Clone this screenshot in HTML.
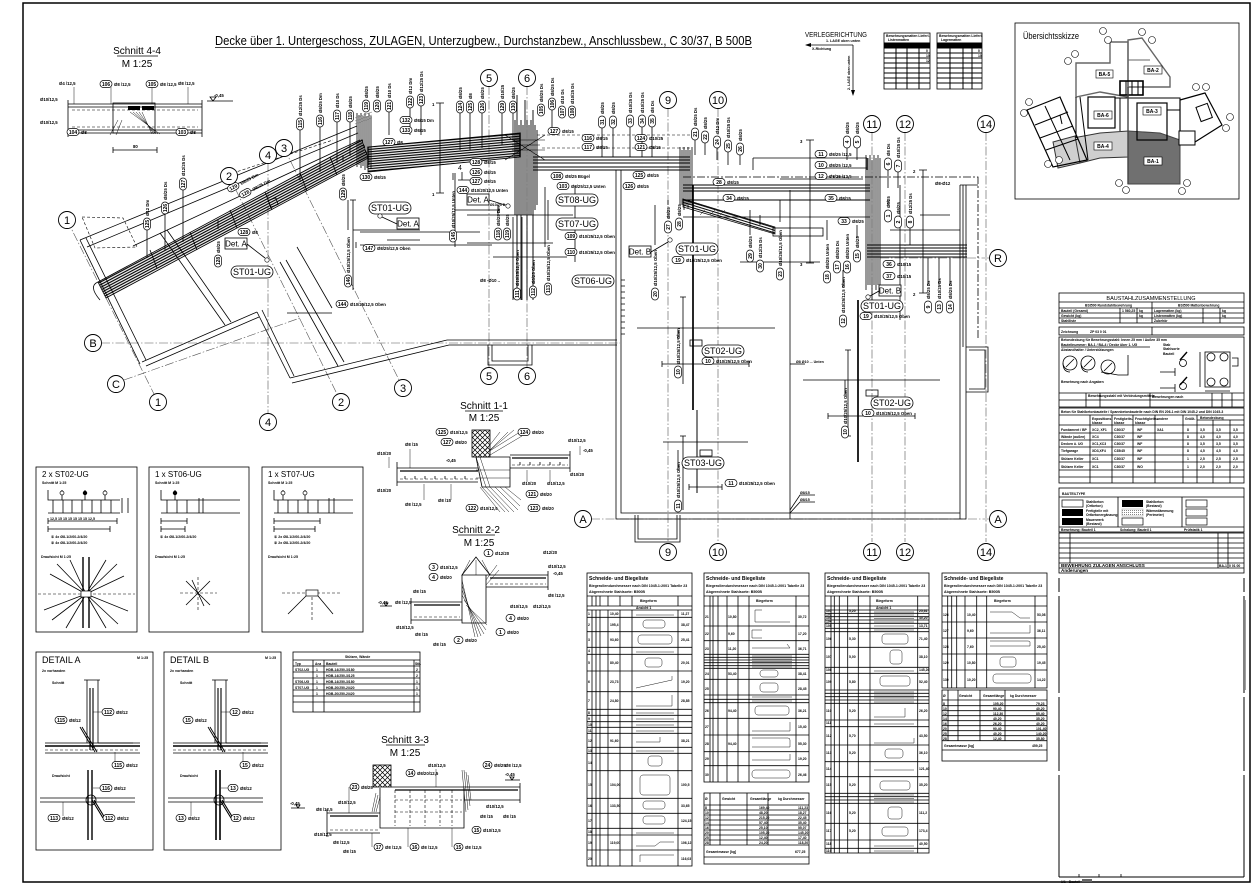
<!DOCTYPE html>
<html><head><meta charset="utf-8"><title>Bewehrungsplan</title>
<style>
html,body{margin:0;padding:0;background:#fff;width:1253px;height:888px;overflow:hidden}
svg{display:block}
text{font-family:"Liberation Sans Narrow","Liberation Sans",sans-serif;fill:#000}
.l{stroke:#000;stroke-width:.8;fill:none}
.t{stroke:#000;stroke-width:1.7;fill:none}
.h{stroke:#000;stroke-width:.45;fill:none}
.g{stroke:#555;stroke-width:.6;fill:none;stroke-dasharray:9 2 1.5 2}
.d{stroke:#000;stroke-width:.6;fill:none;stroke-dasharray:3 2}
.c circle{fill:#fff;stroke:#000;stroke-width:.9}
.c text{font-size:11px;text-anchor:middle}
.b rect{fill:#fff;stroke:#000;stroke-width:.7}
.b .n{font-size:5px;font-weight:bold;text-anchor:middle}
.b .s{font-size:4.3px;font-weight:bold}
.k{font-size:4.3px;font-weight:bold}
.kk{font-size:3.6px;font-weight:bold}
.tg rect{fill:#fff;stroke:#000;stroke-width:.8}
.tg text{font-size:9px;text-anchor:middle}
.sm{font-size:10px;text-anchor:middle}
.tb{font-size:3.4px;font-weight:bold}
</style></head><body>
<svg width="1253" height="888" viewBox="0 0 1253 888" xmlns="http://www.w3.org/2000/svg">
<defs>
<pattern id="hb" width="2.4" height="2.4" patternUnits="userSpaceOnUse" patternTransform="rotate(-28)"><line x1="0" y1="1" x2="2.4" y2="1" stroke="#000" stroke-width="1.2"/></pattern>
<pattern id="hb2" width="2.4" height="2.4" patternUnits="userSpaceOnUse" patternTransform="rotate(-5)"><line x1="0" y1="1" x2="2.4" y2="1" stroke="#000" stroke-width="1.2"/></pattern>
<pattern id="hb3" width="2.4" height="2.4" patternUnits="userSpaceOnUse" patternTransform="rotate(17)"><line x1="0" y1="1" x2="2.4" y2="1" stroke="#000" stroke-width="1"/></pattern>
<pattern id="xh" width="5" height="5" patternUnits="userSpaceOnUse"><path d="M0 0L5 5M5 0L0 5" stroke="#000" stroke-width="0.7"/></pattern>
<pattern id="dots" width="2" height="2" patternUnits="userSpaceOnUse"><rect width="1" height="1" fill="#888"/></pattern>
</defs>
<rect width="1253" height="888" fill="#fff"/>
<!-- frame -->
<rect x="23" y="3" width="1227" height="879" fill="none" stroke="#000" stroke-width="1.5"/>

<!-- title -->
<text x="215" y="45" font-size="12.5" textLength="537" lengthAdjust="spacingAndGlyphs">Decke über 1. Untergeschoss, ZULAGEN, Unterzugbew., Durchstanzbew., Anschlussbew., C 30/37, B 500B</text>
<line x1="215" y1="47.5" x2="752" y2="47.5" class="l"/>

<!-- Verlegerichtung -->
<text x="805" y="37" font-size="7.5" textLength="62" lengthAdjust="spacingAndGlyphs">VERLEGERICHTUNG</text>
<text x="826" y="42" class="kk" font-weight="normal">1. LAGE oben unten</text>
<line x1="806" y1="45" x2="853" y2="45" class="l"/><path d="M805 45l6-2v4z"/>
<text x="812" y="50" class="kk">X-Richtung</text>
<line x1="853" y1="45" x2="853" y2="94" class="l"/><path d="M853 96l-2-6h4z"/>
<text transform="translate(850,90) rotate(-90)" class="kk">2. LAGE oben unten</text>

<!-- small tables top -->
<g>
<rect x="884" y="33" width="46" height="56" class="l"/>
<text x="886" y="37" class="tb">Bewehrungsmatten Lieferl.</text><text x="888" y="41" class="tb">Listenmatten</text>
<path d="M884 43H930M884 48H930M884 53H930M884 58H930M884 63H930M884 68H930M884 73H930M884 78H930M884 83H930M896 43V89M907 43V89M919 43V89" stroke="#000" stroke-width="1" fill="none"/>
<rect x="884" y="43" width="46" height="5" fill="#000"/>
<rect x="937" y="33" width="45" height="56" class="l"/>
<text x="939" y="37" class="tb">Bewehrungsmatten Lieferl.</text><text x="941" y="41" class="tb">Lagermatten</text>
<path d="M937 43H982M937 48H982M937 53H982M937 58H982M937 63H982M937 68H982M937 73H982M937 78H982M937 83H982M950 43V89M963 43V89M972 43V89" stroke="#000" stroke-width="1" fill="none"/>
<rect x="937" y="43" width="45" height="5" fill="#000"/>
<text x="926" y="52" class="tb">0</text><text x="926" y="57" class="tb">10</text><text x="926" y="62" class="tb">12</text><text x="978" y="52" class="tb">0</text><text x="978" y="57" class="tb">10</text>
</g>

<!-- Übersichtsskizze -->
<g>
<rect x="1015" y="23" width="224" height="176" class="l" stroke-width="1"/>
<text x="1023" y="39" font-size="9" textLength="56" lengthAdjust="spacingAndGlyphs">Übersichtsskizze</text>
<polygon points="1128,131 1160,133 1180,140 1180,184 1128,184" fill="#707070" stroke="#444" stroke-width="1"/>
<polygon points="1073,138 1100,133 1128,131 1128,157 1100,158 1080,163" fill="#cfcfcf" stroke="#333" stroke-width="1"/>
<polygon points="1053,142 1075,136 1080,163 1058,168" fill="#cfcfcf" stroke="#333" stroke-width="1"/>
<polygon points="1076,63 1110,63 1110,42 1128,42 1128,97 1100,92 1076,97" fill="none" stroke="#666" stroke-width="1.4"/>
<polygon points="1128,40 1142,38 1170,77 1170,87 1128,87" fill="none" stroke="#666" stroke-width="1.4"/>
<line x1="1128" y1="60" x2="1150" y2="60" stroke="#666" stroke-width="1"/>
<rect x="1120" y="81" width="23" height="14" fill="none" stroke="#000" stroke-width="1.6"/>
<path d="M1126 81V95M1132 81V95M1138 81V95" stroke="#000" stroke-width="1"/>
<rect x="1088" y="97" width="27" height="31" fill="none" stroke="#000" stroke-width="1.2"/>
<rect x="1137" y="103" width="30" height="37" fill="none" stroke="#000" stroke-width="1.2"/>
<path d="M1115 98H1180V140M1120 98V131M1167 110H1180M1080 97L1088 160M1076 97V138" fill="none" stroke="#000" stroke-width="1"/>
<polygon points="1027,110 1060,97 1087,160 1053,167" fill="none" stroke="#000" stroke-width="1.2"/>
<path d="M1035 125L1068 112M1040 138L1073 126M1046 150L1078 139M1045 106L1070 160M1060 115L1062 124" fill="none" stroke="#000" stroke-width="1"/>
<polygon points="1180,100 1205,93 1222,125 1195,142 1180,140" fill="none" stroke="#000" stroke-width="1.2"/>
<rect x="1179" y="131" width="16" height="14" fill="#fff" stroke="#000" stroke-width="1"/>
<rect x="1198" y="105" width="12" height="15" fill="none" stroke="#000" stroke-width="1" transform="rotate(-20 1204 112)"/>
<line x1="1128" y1="87" x2="1128" y2="184" stroke="#444" stroke-width="1.4"/>
<g font-size="5" font-weight="bold" text-anchor="middle">
<rect x="1096" y="70" width="17" height="8" fill="#fff" stroke="#000" stroke-width=".6"/><text x="1104.5" y="76">BA-5</text>
<rect x="1144" y="66" width="18" height="8" fill="#fff" stroke="#000" stroke-width=".6"/><text x="1153" y="72">BA-2</text>
<rect x="1094" y="111" width="18" height="8" fill="#fff" stroke="#000" stroke-width=".6"/><text x="1103" y="117">BA-6</text>
<rect x="1143" y="107" width="18" height="8" fill="#fff" stroke="#000" stroke-width=".6"/><text x="1152" y="113">BA-3</text>
<rect x="1094" y="142" width="18" height="8" fill="#fff" stroke="#000" stroke-width=".6"/><text x="1103" y="148">BA-4</text>
<rect x="1144" y="157" width="18" height="8" fill="#fff" stroke="#000" stroke-width=".6"/><text x="1153" y="163">BA-1</text>
</g>
<g fill="#fff" stroke="#000" stroke-width=".6">
<circle cx="1103" cy="31" r="3.5"/><circle cx="1108" cy="40" r="3.5"/><circle cx="1142" cy="32" r="3.5"/><circle cx="1152" cy="40" r="3.5"/>
<circle cx="1075" cy="54" r="3.5"/><circle cx="1068" cy="61" r="3.5"/><circle cx="1029" cy="102" r="3.5"/><circle cx="1024" cy="113" r="3.5"/>
<circle cx="1048" cy="164" r="3.5"/><circle cx="1059" cy="160" r="3.5"/><circle cx="1119" cy="183" r="3.5"/><circle cx="1126" cy="190" r="3.5"/>
<circle cx="1187" cy="183" r="3.5"/><circle cx="1182" cy="191" r="3.5"/><circle cx="1196" cy="87" r="3.5"/><circle cx="1206" cy="87" r="3.5"/>
<circle cx="1230" cy="117" r="3.5"/><circle cx="1226" cy="128" r="3.5"/>
</g>
</g>

<!-- Schnitt 4-4 -->
<g>
<text x="137" y="54" class="sm">Schnitt 4-4</text><line x1="117" y1="56" x2="158" y2="56" class="l"/>
<text x="137" y="67" class="sm">M 1:25</text>
<path d="M68 104H202M68 107H202M68 130H202M68 133H202M68 100V137M202 100V137" class="l"/>
<path d="M72 110H198M72 127H198" class="d"/>
<rect x="113" y="103" width="42" height="30" class="l"/>
<rect x="128" y="106" width="12" height="4" fill="#000"/><rect x="142" y="106" width="12" height="4" fill="#000"/>
<path d="M130 112L160 134M133 112L158 134M136 112L156 134M139 112L154 134M142 112L152 134M118 120L110 135M122 120L116 135" class="h"/>
<path d="M113 150H157M113 147V153M157 147V153" class="l"/><text x="133" y="148" class="k">80</text>
<text x="59" y="85" class="k">Ø4 /12,5</text><text x="178" y="85" class="k">Ø8 /12,5</text>
<text x="40" y="101" class="k">Ø10/12,5</text><text x="40" y="124" class="k">Ø10/12,5</text>
<path d="M74 87V104M111 87V104M152 87V104M188 87V104" class="h"/>
<g class="b" transform="translate(100,84)"><rect x="0" y="-3.5" width="12" height="7" rx="3.5"/><text x="6" y="1.8" class="n">106</text><text x="14" y="1.8" class="s">Ø8 /12,5</text></g>
<g class="b" transform="translate(146,84)"><rect x="0" y="-3.5" width="12" height="7" rx="3.5"/><text x="6" y="1.8" class="n">105</text><text x="14" y="1.8" class="s">Ø8 /12,5</text></g>
<g class="b" transform="translate(67,132)"><rect x="0" y="-3.5" width="12" height="7" rx="3.5"/><text x="6" y="1.8" class="n">104</text><text x="14" y="1.8" class="s">Ø8</text></g>
<g class="b" transform="translate(176,132)"><rect x="0" y="-3.5" width="12" height="7" rx="3.5"/><text x="6" y="1.8" class="n">103</text><text x="14" y="1.8" class="s">Ø8</text></g>
<path d="M207 101H233M213 101l-3-4h6z" class="l"/><text x="214" y="97" class="k">-0,45</text>
</g>

<!-- grid lines -->
<g>
<path d="M67 220L158 402M229 176L341 402M284 148L403 388M268 163V414M124 380L300 318M101 343H620M489 86V368M527 86V368M668 108V542M718 108V542M872 132V542M905 132V542M986 132V542M591 519H989M880 258H990" class="g"/>
</g>

<!-- building walls lower left -->
<g class="l">
<path d="M80 240L140 364M86 238L146 360"/>
<path d="M142 362L257 312M146 366L259 317"/>
<path d="M257 312L290 378M262 310L294 376"/>
<path d="M290 378L447 340M292 383L449 345"/>
<path d="M447 340H617M449 345H617"/>
<path d="M160 233L225 325M167 230L231 322"/>
<path d="M280 262L338 366M286 260L344 362"/>
<path d="M488 345V365H532V345M492 345V361H528V345"/>
</g>
<polygon points="82,217 123,218 137,247 95,248" class="d"/>

<!-- diagonal beam -->
<path d="M80 240L357 126M87 247L358 133M133 246L360 140" class="l"/>
<path d="M233 173L333 140" class="d"/>
<polygon points="98,282 362,140 368,158 106,298" fill="url(#hb)" stroke="#000" stroke-width=".8"/>
<path d="M98 282Q88 286 100 300" class="l"/>
<polygon points="368,147 520,133 520,157 368,172" fill="url(#hb2)" stroke="#000" stroke-width=".8"/>
<path d="M150 250L157 268M190 232L197 250M230 210L237 228M265 192L272 210M300 173L307 191M330 157L337 175" class="l"/>
<!-- cluster A -->
<path d="M357 113V167M359 115V165M361 113V168M363 116V166M365 113V170M367 116V168M369 113V165M371 116V168" stroke="#000" stroke-width=".8"/>
<path d="M355 118L372 112M355 121L372 115M355 124L372 118" stroke="#777" stroke-width=".6"/>
<!-- cluster B -->
<path d="M515 120V215M517 95V300M519 125V215M521 120V300M523 125V215M525 100V215M527 120V300M529 125V215M531 120V215M533 110V300M535 125V210M537 130V205" stroke="#000" stroke-width=".9"/>
<path d="M512 140H545M512 150H545M512 145H540" stroke="#000" stroke-width=".6"/>
<path d="M505 135L545 160M505 160L545 135" stroke="#000" stroke-width=".6"/>
<!-- horizontal bars -->
<path d="M533 157H690M533 160H690M533 163H690M533 167H690M533 170H690" stroke="#000" stroke-width="1"/>
<path d="M537 135H690M542 148H690" class="d"/>
<!-- cluster C -->
<path d="M680 147V205M682 150V205M684 147V210M686 150V205M688 147V208M690 150V205M692 147V205" stroke="#000" stroke-width=".8"/>
<path d="M683 185H870M683 188H870M683 191H870M683 200H870" stroke="#000" stroke-width="1"/>
<path d="M683 217H870" class="l"/>
<path d="M683 177H978V340" stroke="#000" stroke-width=".8" fill="none" stroke-dasharray="8 2 2 2"/>
<polygon points="683,199 775,227 775,234 683,207" fill="url(#hb3)" stroke="#000" stroke-width=".7"/>
<rect x="773" y="228" width="50" height="8" class="l"/>
<!-- cluster D -->
<path d="M866 155V290M868 158V285M870 155V285M872 160V300M874 155V285M876 158V290M878 155V285M880 158V285" stroke="#000" stroke-width=".8"/>
<path d="M867 245H967M867 248H967M867 251H967M867 254H967M867 257H967" stroke="#000" stroke-width=".9"/>
<path d="M960 185V519M963 185V347M966 185V347M960 185H978" class="l"/>
<path d="M966 347H988V392H966M969 350H985V389H969" class="l"/>

<!-- lower slab -->
<path d="M616 170V519H966V347M621 170V513H960" class="l"/>
<path d="M621 280H625M621 286H625M621 292H625M621 298H625M621 304H625M621 310H625M621 316H625M621 322H625M621 328H625M621 334H625" class="l"/>
<path d="M635 515V542H680V515M638 515V539H677V515" class="l"/>
<line x1="790" y1="190" x2="790" y2="519" class="l"/>
<line x1="693" y1="185" x2="693" y2="410" class="t"/>
<line x1="697" y1="410" x2="697" y2="493" stroke="#000" stroke-width="1"/>
<line x1="858" y1="300" x2="858" y2="462" class="t"/>
<path d="M637 328H775M663 442H748M803 380H940" class="l"/>
<path d="M662 364H749M662 361V367M749 361V367M828 416H915M828 413V419M915 413V419M689 487H722M689 484V490M722 484V490" class="l"/>
<path d="M683 297V384M680 297H686M683 436V510M680 436H686M848 350V436M845 350H851M845 436H851" class="l"/>
<rect x="690" y="340" width="12" height="6" class="l"/><rect x="700" y="450" width="12" height="6" class="l"/><rect x="866" y="390" width="12" height="6" class="l"/>
<path d="M790 510L800 495H815M790 513L800 502H815" class="l"/>
<text x="800" y="494" class="kk">Ø8/15</text><text x="800" y="501" class="kk">Ø8/15</text>
<path d="M790 364H805" class="l"/><text x="796" y="363" class="kk">Ø8 Ø10 ... Unten</text>

<!-- misc plan lines -->
<path d="M440 103V193M436 103H444M436 193H444" class="l"/>
<text x="432" y="106" class="k">1</text><text x="432" y="196" class="k">1</text>
<text x="458" y="170" font-size="7">4</text><path d="M462 172V180M458 180H470" class="l"/>
<path d="M467 215H573M467 243H553M360 232H480M493 257H567M360 245H492M356 242V248" class="l"/>
<path d="M353 200V290M350 200H356M353 230H420M387 240H420" class="l"/>
<path d="M297 247L332 308M287 313H332" class="l"/>
<path d="M455 173V247M513 217V300M522 217V300M545 187V247M575 186V262M455 210H500" class="l"/>
<path d="M753 158H867M817 168H867M780 179H863" class="l"/>
<path d="M810 140V263M923 170V293" class="l"/>
<text x="800" y="143" class="k">3</text><text x="800" y="266" class="k">3</text><text x="913" y="173" class="k">2</text><text x="913" y="296" class="k">2</text>
<path d="M806 140H814M806 263H814M919 170H927M919 293H927" class="l"/>
<path d="M700 215L705 210M710 215L715 210M720 215L725 210" class="h"/>
<path d="M753 158V170M867 158V170" class="l"/>
<path d="M740 262H820" class="l"/>
<path d="M900 185V320M890 230H960M920 215H950" class="l"/>
<text x="935" y="185" class="k">Ø8-Ø12</text>
<text x="490" y="206" class="kk">Ø10/25 Ds</text>
<text x="480" y="282" class="k">Ø8 -Ø10 ..</text>

<!-- flags (vertical labels) -->
<g class="b">
<g transform="translate(300,130) rotate(-90)"><rect x="0" y="-3.5" width="12" height="7" rx="3.5"/><text x="6" y="1.8" class="n">115</text><text x="14" y="1.8" class="s">Ø12/25 Ds</text></g>
<g transform="translate(320,127) rotate(-90)"><rect x="0" y="-3.5" width="12" height="7" rx="3.5"/><text x="6" y="1.8" class="n">116</text><text x="14" y="1.8" class="s">Ø8/25 Dm</text></g>
<g transform="translate(337,122) rotate(-90)"><rect x="0" y="-3.5" width="12" height="7" rx="3.5"/><text x="6" y="1.8" class="n">117</text><text x="14" y="1.8" class="s">Ø10 Ds</text></g>
<g transform="translate(350,122) rotate(-90)"><rect x="0" y="-3.5" width="12" height="7" rx="3.5"/><text x="6" y="1.8" class="n">118</text><text x="14" y="1.8" class="s">Ø8/25</text></g>
<g transform="translate(366,112) rotate(-90)"><rect x="0" y="-3.5" width="12" height="7" rx="3.5"/><text x="6" y="1.8" class="n">119</text><text x="14" y="1.8" class="s">Ø8/25</text></g>
<g transform="translate(377,112) rotate(-90)"><rect x="0" y="-3.5" width="12" height="7" rx="3.5"/><text x="6" y="1.8" class="n">120</text><text x="14" y="1.8" class="s">Ø8/25</text></g>
<g transform="translate(389,112) rotate(-90)"><rect x="0" y="-3.5" width="12" height="7" rx="3.5"/><text x="6" y="1.8" class="n">121</text><text x="14" y="1.8" class="s">Ø10 Ds</text></g>
<g transform="translate(410,108) rotate(-90)"><rect x="0" y="-3.5" width="12" height="7" rx="3.5"/><text x="6" y="1.8" class="n">122</text><text x="14" y="1.8" class="s">Ø12 Dm</text></g>
<g transform="translate(421,106) rotate(-90)"><rect x="0" y="-3.5" width="12" height="7" rx="3.5"/><text x="6" y="1.8" class="n">123</text><text x="14" y="1.8" class="s">Ø12/25 Ds</text></g>
<g transform="translate(147,230) rotate(-90)"><rect x="0" y="-3.5" width="12" height="7" rx="3.5"/><text x="6" y="1.8" class="n">125</text><text x="14" y="1.8" class="s">Ø12 Dm</text></g>
<g transform="translate(165,214) rotate(-90)"><rect x="0" y="-3.5" width="12" height="7" rx="3.5"/><text x="6" y="1.8" class="n">126</text><text x="14" y="1.8" class="s">Ø8/25 Ds</text></g>
<g transform="translate(183,190) rotate(-90)"><rect x="0" y="-3.5" width="12" height="7" rx="3.5"/><text x="6" y="1.8" class="n">127</text><text x="14" y="1.8" class="s">Ø12/25 Ds</text></g>
<g transform="translate(460,113) rotate(-90)"><rect x="0" y="-3.5" width="12" height="7" rx="3.5"/><text x="6" y="1.8" class="n">124</text><text x="14" y="1.8" class="s">Ø8/25</text></g>
<g transform="translate(470,113) rotate(-90)"><rect x="0" y="-3.5" width="12" height="7" rx="3.5"/><text x="6" y="1.8" class="n">125</text><text x="14" y="1.8" class="s">Ø8</text></g>
<g transform="translate(482,113) rotate(-90)"><rect x="0" y="-3.5" width="12" height="7" rx="3.5"/><text x="6" y="1.8" class="n">126</text><text x="14" y="1.8" class="s">Ø8/25</text></g>
<g transform="translate(502,113) rotate(-90)"><rect x="0" y="-3.5" width="12" height="7" rx="3.5"/><text x="6" y="1.8" class="n">129</text><text x="14" y="1.8" class="s">Ø10/25</text></g>
<g transform="translate(513,113) rotate(-90)"><rect x="0" y="-3.5" width="12" height="7" rx="3.5"/><text x="6" y="1.8" class="n">130</text><text x="14" y="1.8" class="s">Ø8/25</text></g>
<g transform="translate(541,116) rotate(-90)"><rect x="0" y="-3.5" width="12" height="7" rx="3.5"/><text x="6" y="1.8" class="n">105</text><text x="14" y="1.8" class="s">Ø8/25 Ds</text></g>
<g transform="translate(552,110) rotate(-90)"><rect x="0" y="-3.5" width="12" height="7" rx="3.5"/><text x="6" y="1.8" class="n">106</text><text x="14" y="1.8" class="s">Ø8/25 Ds</text></g>
<g transform="translate(562,118) rotate(-90)"><rect x="0" y="-3.5" width="12" height="7" rx="3.5"/><text x="6" y="1.8" class="n">107</text><text x="14" y="1.8" class="s">Ø10 Ds</text></g>
<g transform="translate(572,118) rotate(-90)"><rect x="0" y="-3.5" width="12" height="7" rx="3.5"/><text x="6" y="1.8" class="n">108</text><text x="14" y="1.8" class="s">Ø10/25 Ds</text></g>
<g transform="translate(602,128) rotate(-90)"><rect x="0" y="-3.5" width="12" height="7" rx="3.5"/><text x="6" y="1.8" class="n">31</text><text x="14" y="1.8" class="s">Ø8/25</text></g>
<g transform="translate(613,128) rotate(-90)"><rect x="0" y="-3.5" width="12" height="7" rx="3.5"/><text x="6" y="1.8" class="n">32</text><text x="14" y="1.8" class="s">Ø8/25</text></g>
<g transform="translate(630,127) rotate(-90)"><rect x="0" y="-3.5" width="12" height="7" rx="3.5"/><text x="6" y="1.8" class="n">33</text><text x="14" y="1.8" class="s">Ø10/25 Ds</text></g>
<g transform="translate(642,127) rotate(-90)"><rect x="0" y="-3.5" width="12" height="7" rx="3.5"/><text x="6" y="1.8" class="n">34</text><text x="14" y="1.8" class="s">Ø10/25 Ds</text></g>
<g transform="translate(652,127) rotate(-90)"><rect x="0" y="-3.5" width="12" height="7" rx="3.5"/><text x="6" y="1.8" class="n">35</text><text x="14" y="1.8" class="s">Ø8 Ds</text></g>
<g transform="translate(695,140) rotate(-90)"><rect x="0" y="-3.5" width="12" height="7" rx="3.5"/><text x="6" y="1.8" class="n">21</text><text x="14" y="1.8" class="s">Ø8/25 Ds</text></g>
<g transform="translate(705,143) rotate(-90)"><rect x="0" y="-3.5" width="12" height="7" rx="3.5"/><text x="6" y="1.8" class="n">22</text><text x="14" y="1.8" class="s">Ø8/25</text></g>
<g transform="translate(717,148) rotate(-90)"><rect x="0" y="-3.5" width="12" height="7" rx="3.5"/><text x="6" y="1.8" class="n">24</text><text x="14" y="1.8" class="s">Ø12 Dm</text></g>
<g transform="translate(728,152) rotate(-90)"><rect x="0" y="-3.5" width="12" height="7" rx="3.5"/><text x="6" y="1.8" class="n">25</text><text x="14" y="1.8" class="s">Ø10/25 Ds</text></g>
<g transform="translate(740,155) rotate(-90)"><rect x="0" y="-3.5" width="12" height="7" rx="3.5"/><text x="6" y="1.8" class="n">26</text><text x="14" y="1.8" class="s">Ø8/25</text></g>
<g transform="translate(847,148) rotate(-90)"><rect x="0" y="-3.5" width="12" height="7" rx="3.5"/><text x="6" y="1.8" class="n">4</text><text x="14" y="1.8" class="s">Ø8/25</text></g>
<g transform="translate(857,148) rotate(-90)"><rect x="0" y="-3.5" width="12" height="7" rx="3.5"/><text x="6" y="1.8" class="n">5</text><text x="14" y="1.8" class="s">Ø8/25</text></g>
<g transform="translate(888,170) rotate(-90)"><rect x="0" y="-3.5" width="12" height="7" rx="3.5"/><text x="6" y="1.8" class="n">6</text><text x="14" y="1.8" class="s">Ø8 Ds</text></g>
<g transform="translate(898,172) rotate(-90)"><rect x="0" y="-3.5" width="12" height="7" rx="3.5"/><text x="6" y="1.8" class="n">7</text><text x="14" y="1.8" class="s">Ø10/25 Ds</text></g>
<g transform="translate(910,228) rotate(-90)"><rect x="0" y="-3.5" width="12" height="7" rx="3.5"/><text x="6" y="1.8" class="n">8</text><text x="14" y="1.8" class="s">Ø12/25 Ds</text></g>
<!-- lower flags -->
<g transform="translate(218,267) rotate(-90)"><rect x="0" y="-3.5" width="12" height="7" rx="3.5"/><text x="6" y="1.8" class="n">128</text><text x="14" y="1.8" class="s">Ø8/25</text></g>
<g transform="translate(343,200) rotate(-90)"><rect x="0" y="-3.5" width="12" height="7" rx="3.5"/><text x="6" y="1.8" class="n">129</text><text x="14" y="1.8" class="s">Ø8/25</text></g>
<g transform="translate(348,287) rotate(-90)"><rect x="0" y="-3.5" width="12" height="7" rx="3.5"/><text x="6" y="1.8" class="n">146</text><text x="14" y="1.8" class="s">Ø10/25/12,5 Oben</text></g>
<g transform="translate(453,242) rotate(-90)"><rect x="0" y="-3.5" width="12" height="7" rx="3.5"/><text x="6" y="1.8" class="n">145</text><text x="14" y="1.8" class="s">Ø10/25/12,5 Unten</text></g>
<g transform="translate(498,240) rotate(-90)"><rect x="0" y="-3.5" width="12" height="7" rx="3.5"/><text x="6" y="1.8" class="n">118</text><text x="14" y="1.8" class="s">Ø8/25 Dm</text></g>
<g transform="translate(507,240) rotate(-90)"><rect x="0" y="-3.5" width="12" height="7" rx="3.5"/><text x="6" y="1.8" class="n">119</text><text x="14" y="1.8" class="s">Ø8/25</text></g>
<g transform="translate(517,300) rotate(-90)"><rect x="0" y="-3.5" width="12" height="7" rx="3.5"/><text x="6" y="1.8" class="n">111</text><text x="14" y="1.8" class="s">Ø10/25/12,5 Oben</text></g>
<g transform="translate(533,298) rotate(-90)"><rect x="0" y="-3.5" width="12" height="7" rx="3.5"/><text x="6" y="1.8" class="n">112</text><text x="14" y="1.8" class="s">Ø8/25 Oben</text></g>
<g transform="translate(548,295) rotate(-90)"><rect x="0" y="-3.5" width="12" height="7" rx="3.5"/><text x="6" y="1.8" class="n">113</text><text x="14" y="1.8" class="s">Ø10/25/12,5 Oben</text></g>
<g transform="translate(655,300) rotate(-90)"><rect x="0" y="-3.5" width="12" height="7" rx="3.5"/><text x="6" y="1.8" class="n">20</text><text x="14" y="1.8" class="s">Ø10/25/12,5 Oben</text></g>
<g transform="translate(668,233) rotate(-90)"><rect x="0" y="-3.5" width="12" height="7" rx="3.5"/><text x="6" y="1.8" class="n">27</text><text x="14" y="1.8" class="s">Ø8/25</text></g>
<g transform="translate(679,230) rotate(-90)"><rect x="0" y="-3.5" width="12" height="7" rx="3.5"/><text x="6" y="1.8" class="n">28</text><text x="14" y="1.8" class="s">Ø8/25</text></g>
<g transform="translate(750,262) rotate(-90)"><rect x="0" y="-3.5" width="12" height="7" rx="3.5"/><text x="6" y="1.8" class="n">29</text><text x="14" y="1.8" class="s">Ø8/25</text></g>
<g transform="translate(760,272) rotate(-90)"><rect x="0" y="-3.5" width="12" height="7" rx="3.5"/><text x="6" y="1.8" class="n">30</text><text x="14" y="1.8" class="s">Ø12/25 Ds</text></g>
<g transform="translate(780,280) rotate(-90)"><rect x="0" y="-3.5" width="12" height="7" rx="3.5"/><text x="6" y="1.8" class="n">23</text><text x="14" y="1.8" class="s">Ø10/25/12,5 Oben</text></g>
<g transform="translate(827,283) rotate(-90)"><rect x="0" y="-3.5" width="12" height="7" rx="3.5"/><text x="6" y="1.8" class="n">18</text><text x="14" y="1.8" class="s">Ø8/25 Unten</text></g>
<g transform="translate(837,273) rotate(-90)"><rect x="0" y="-3.5" width="12" height="7" rx="3.5"/><text x="6" y="1.8" class="n">17</text><text x="14" y="1.8" class="s">Ø8/25 Ds</text></g>
<g transform="translate(847,273) rotate(-90)"><rect x="0" y="-3.5" width="12" height="7" rx="3.5"/><text x="6" y="1.8" class="n">16</text><text x="14" y="1.8" class="s">Ø8/25 Unten</text></g>
<g transform="translate(857,262) rotate(-90)"><rect x="0" y="-3.5" width="12" height="7" rx="3.5"/><text x="6" y="1.8" class="n">15</text><text x="14" y="1.8" class="s">Ø8/25</text></g>
<g transform="translate(888,222) rotate(-90)"><rect x="0" y="-3.5" width="12" height="7" rx="3.5"/><text x="6" y="1.8" class="n">1</text><text x="14" y="1.8" class="s">Ø8/25</text></g>
<g transform="translate(898,228) rotate(-90)"><rect x="0" y="-3.5" width="12" height="7" rx="3.5"/><text x="6" y="1.8" class="n">2</text><text x="14" y="1.8" class="s">Ø8/25</text></g>
<g transform="translate(928,313) rotate(-90)"><rect x="0" y="-3.5" width="12" height="7" rx="3.5"/><text x="6" y="1.8" class="n">9</text><text x="14" y="1.8" class="s">Ø8/25 Ds</text></g>
<g transform="translate(939,313) rotate(-90)"><rect x="0" y="-3.5" width="12" height="7" rx="3.5"/><text x="6" y="1.8" class="n">13</text><text x="14" y="1.8" class="s">Ø10/25 Ds</text></g>
<g transform="translate(950,313) rotate(-90)"><rect x="0" y="-3.5" width="12" height="7" rx="3.5"/><text x="6" y="1.8" class="n">14</text><text x="14" y="1.8" class="s">Ø8/25 Ds</text></g>
<g transform="translate(843,327) rotate(-90)"><rect x="0" y="-3.5" width="12" height="7" rx="3.5"/><text x="6" y="1.8" class="n">12</text><text x="14" y="1.8" class="s">Ø10/25/12,5 Oben</text></g>
<g transform="translate(678,378) rotate(-90)"><rect x="0" y="-3.5" width="12" height="7" rx="3.5"/><text x="6" y="1.8" class="n">10</text><text x="14" y="1.8" class="s">Ø10/25/12,5 Oben</text></g>
<g transform="translate(678,512) rotate(-90)"><rect x="0" y="-3.5" width="12" height="7" rx="3.5"/><text x="6" y="1.8" class="n">11</text><text x="14" y="1.8" class="s">Ø10/25/12,5 Oben</text></g>
<g transform="translate(845,438) rotate(-90)"><rect x="0" y="-3.5" width="12" height="7" rx="3.5"/><text x="6" y="1.8" class="n">10</text><text x="14" y="1.8" class="s">Ø10/25/12,5 Oben</text></g>
</g>
<path d="M300 130V180M320 127V172M337 122V163M350 122V156M389 112V135M410 108V135M421 106V135M147 230V258M165 214V250M183 190V242M460 113V150M470 113V150M482 113V148M502 113V145M513 113V140M552 110V135M602 128V157M613 128V157M630 127V157M642 127V157M652 127V157M695 140V155M705 143V155M717 148V160M728 152V165M740 155V165M847 148V160M857 148V160M888 170V188M898 172V188M910 228V245M218 229V220M343 162V155M348 230V200M453 180V173M498 215V205M517 245V215M533 255V215M548 240V200M655 245V205M668 205V200M750 235V210M760 225V215M780 222V200M827 240V220M857 238V225M888 205V200M928 285V258M939 285V258M950 285V258M843 288V270M678 340V330M678 470V450M845 395V380" class="l"/>

<!-- horizontal labels -->
<g class="b">
<g transform="translate(400,120)"><rect x="0" y="-3.5" width="12" height="7" rx="3.5"/><text x="6" y="1.8" class="n">132</text><text x="14" y="1.8" class="s">Ø8/15 Dm</text></g>
<g transform="translate(400,130)"><rect x="0" y="-3.5" width="12" height="7" rx="3.5"/><text x="6" y="1.8" class="n">133</text><text x="14" y="1.8" class="s">Ø8/15</text></g>
<g transform="translate(383,142)"><rect x="0" y="-3.5" width="12" height="7" rx="3.5"/><text x="6" y="1.8" class="n">127</text><text x="14" y="1.8" class="s">Ø8</text></g>
<g transform="translate(360,177)"><rect x="0" y="-3.5" width="12" height="7" rx="3.5"/><text x="6" y="1.8" class="n">130</text><text x="14" y="1.8" class="s">Ø8/15</text></g>
<g transform="translate(238,232)"><rect x="0" y="-3.5" width="12" height="7" rx="3.5"/><text x="6" y="1.8" class="n">128</text><text x="14" y="1.8" class="s">Ø8</text></g>
<g transform="translate(363,248)"><rect x="0" y="-3.5" width="12" height="7" rx="3.5"/><text x="6" y="1.8" class="n">147</text><text x="14" y="1.8" class="s">Ø8/25/12,5 Oben</text></g>
<g transform="translate(336,304)"><rect x="0" y="-3.5" width="12" height="7" rx="3.5"/><text x="6" y="1.8" class="n">144</text><text x="14" y="1.8" class="s">Ø10/25/12,5 Oben</text></g>
<g transform="translate(470,162)"><rect x="0" y="-3.5" width="12" height="7" rx="3.5"/><text x="6" y="1.8" class="n">128</text><text x="14" y="1.8" class="s">Ø8/15</text></g>
<g transform="translate(470,172)"><rect x="0" y="-3.5" width="12" height="7" rx="3.5"/><text x="6" y="1.8" class="n">126</text><text x="14" y="1.8" class="s">Ø8/15</text></g>
<g transform="translate(470,181)"><rect x="0" y="-3.5" width="12" height="7" rx="3.5"/><text x="6" y="1.8" class="n">127</text><text x="14" y="1.8" class="s">Ø8/15</text></g>
<g transform="translate(457,190)"><rect x="0" y="-3.5" width="12" height="7" rx="3.5"/><text x="6" y="1.8" class="n">144</text><text x="14" y="1.8" class="s">Ø10/20/12,5 Unten</text></g>
<g transform="translate(551,176)"><rect x="0" y="-3.5" width="12" height="7" rx="3.5"/><text x="6" y="1.8" class="n">108</text><text x="14" y="1.8" class="s">Ø8/25 Bügel</text></g>
<g transform="translate(557,186)"><rect x="0" y="-3.5" width="12" height="7" rx="3.5"/><text x="6" y="1.8" class="n">103</text><text x="14" y="1.8" class="s">Ø8/25/12,5 Unten</text></g>
<g transform="translate(548,131)"><rect x="0" y="-3.5" width="12" height="7" rx="3.5"/><text x="6" y="1.8" class="n">127</text><text x="14" y="1.8" class="s">Ø8/15</text></g>
<g transform="translate(582,138)"><rect x="0" y="-3.5" width="12" height="7" rx="3.5"/><text x="6" y="1.8" class="n">116</text><text x="14" y="1.8" class="s">Ø8/15</text></g>
<g transform="translate(582,147)"><rect x="0" y="-3.5" width="12" height="7" rx="3.5"/><text x="6" y="1.8" class="n">117</text><text x="14" y="1.8" class="s">Ø8/15</text></g>
<g transform="translate(565,236)"><rect x="0" y="-3.5" width="12" height="7" rx="3.5"/><text x="6" y="1.8" class="n">109</text><text x="14" y="1.8" class="s">Ø10/25/12,5 Oben</text></g>
<g transform="translate(565,252)"><rect x="0" y="-3.5" width="12" height="7" rx="3.5"/><text x="6" y="1.8" class="n">110</text><text x="14" y="1.8" class="s">Ø10/25/12,5 Oben</text></g>
<g transform="translate(633,175)"><rect x="0" y="-3.5" width="12" height="7" rx="3.5"/><text x="6" y="1.8" class="n">125</text><text x="14" y="1.8" class="s">Ø8/15</text></g>
<g transform="translate(623,186)"><rect x="0" y="-3.5" width="12" height="7" rx="3.5"/><text x="6" y="1.8" class="n">126</text><text x="14" y="1.8" class="s">Ø8/15</text></g>
<g transform="translate(635,138)"><rect x="0" y="-3.5" width="12" height="7" rx="3.5"/><text x="6" y="1.8" class="n">124</text><text x="14" y="1.8" class="s">Ø10/25</text></g>
<g transform="translate(635,147)"><rect x="0" y="-3.5" width="12" height="7" rx="3.5"/><text x="6" y="1.8" class="n">121</text><text x="14" y="1.8" class="s">Ø8/15</text></g>
<g transform="translate(815,154)"><rect x="0" y="-3.5" width="12" height="7" rx="3.5"/><text x="6" y="1.8" class="n">11</text><text x="14" y="1.8" class="s">Ø8/25 /12,5</text></g>
<g transform="translate(815,165)"><rect x="0" y="-3.5" width="12" height="7" rx="3.5"/><text x="6" y="1.8" class="n">10</text><text x="14" y="1.8" class="s">Ø8/25 /12,5</text></g>
<g transform="translate(815,176)"><rect x="0" y="-3.5" width="12" height="7" rx="3.5"/><text x="6" y="1.8" class="n">12</text><text x="14" y="1.8" class="s">Ø8/25 /12,5</text></g>
<g transform="translate(713,182)"><rect x="0" y="-3.5" width="12" height="7" rx="3.5"/><text x="6" y="1.8" class="n">28</text><text x="14" y="1.8" class="s">Ø8/15</text></g>
<g transform="translate(723,198)"><rect x="0" y="-3.5" width="12" height="7" rx="3.5"/><text x="6" y="1.8" class="n">34</text><text x="14" y="1.8" class="s">Ø8/15</text></g>
<g transform="translate(825,198)"><rect x="0" y="-3.5" width="12" height="7" rx="3.5"/><text x="6" y="1.8" class="n">35</text><text x="14" y="1.8" class="s">Ø8/15</text></g>
<g transform="translate(838,221)"><rect x="0" y="-3.5" width="12" height="7" rx="3.5"/><text x="6" y="1.8" class="n">33</text><text x="14" y="1.8" class="s">Ø8/25</text></g>
<g transform="translate(883,264)"><rect x="0" y="-3.5" width="12" height="7" rx="3.5"/><text x="6" y="1.8" class="n">36</text><text x="14" y="1.8" class="s">Ø10/15</text></g>
<g transform="translate(883,276)"><rect x="0" y="-3.5" width="12" height="7" rx="3.5"/><text x="6" y="1.8" class="n">37</text><text x="14" y="1.8" class="s">Ø10/15</text></g>
<g transform="translate(860,316)"><rect x="0" y="-3.5" width="12" height="7" rx="3.5"/><text x="6" y="1.8" class="n">19</text><text x="14" y="1.8" class="s">Ø10/25/12,5 Oben</text></g>
<g transform="translate(672,260)"><rect x="0" y="-3.5" width="12" height="7" rx="3.5"/><text x="6" y="1.8" class="n">19</text><text x="14" y="1.8" class="s">Ø10/25/12,5 Oben</text></g>
<g transform="translate(702,361)"><rect x="0" y="-3.5" width="12" height="7" rx="3.5"/><text x="6" y="1.8" class="n">10</text><text x="14" y="1.8" class="s">Ø10/25/12,5 Oben</text></g>
<g transform="translate(862,413)"><rect x="0" y="-3.5" width="12" height="7" rx="3.5"/><text x="6" y="1.8" class="n">10</text><text x="14" y="1.8" class="s">Ø10/25/12,5 Oben</text></g>
<g transform="translate(725,483)"><rect x="0" y="-3.5" width="12" height="7" rx="3.5"/><text x="6" y="1.8" class="n">11</text><text x="14" y="1.8" class="s">Ø10/25/12,5 Oben</text></g>
<g transform="translate(228,190) rotate(-28)"><rect x="0" y="-3.5" width="12" height="7" rx="3.5"/><text x="6" y="1.8" class="n">129</text><text x="14" y="1.8" class="s">Ø8/25 Dm</text></g>
<g transform="translate(240,196) rotate(-28)"><rect x="0" y="-3.5" width="12" height="7" rx="3.5"/><text x="6" y="1.8" class="n">128</text><text x="14" y="1.8" class="s">Ø8/25 Dm</text></g>
</g>

<!-- tags -->
<g class="tg">
<rect x="369" y="202" width="42" height="12" rx="6"/><text x="390" y="211">ST01-UG</text>
<rect x="231" y="266" width="42" height="12" rx="6"/><text x="252" y="275">ST01-UG</text>
<rect x="676" y="243" width="42" height="12" rx="6"/><text x="697" y="252">ST01-UG</text>
<rect x="861" y="300" width="42" height="12" rx="6"/><text x="882" y="309">ST01-UG</text>
<rect x="556" y="194" width="42" height="12" rx="6"/><text x="577" y="203">ST08-UG</text>
<rect x="556" y="218" width="42" height="12" rx="6"/><text x="577" y="227">ST07-UG</text>
<rect x="572" y="275" width="42" height="12" rx="6"/><text x="593" y="284">ST06-UG</text>
<rect x="702" y="345" width="42" height="12" rx="6"/><text x="723" y="354">ST02-UG</text>
<rect x="871" y="397" width="42" height="12" rx="6"/><text x="892" y="406">ST02-UG</text>
<rect x="682" y="457" width="42" height="12" rx="6"/><text x="703" y="466">ST03-UG</text>
<rect x="397" y="218" width="22" height="11"/><text x="408" y="226.5" style="font-size:8px">Det. A</text>
<rect x="225" y="238" width="22" height="11"/><text x="236" y="246.5" style="font-size:8px">Det. A</text>
<rect x="467" y="194" width="22" height="11"/><text x="478" y="202.5" style="font-size:8px">Det. A</text>
<rect x="629" y="246" width="22" height="11"/><text x="640" y="254.5" style="font-size:8px">Det. B</text>
<rect x="879" y="285" width="22" height="11"/><text x="890" y="293.5" style="font-size:8px">Det. B</text>
</g>
<path d="M397 224L382 217M247 244L265 258M489 200L505 205M651 252L668 242M879 291L870 296" class="l"/>
<g fill="#fff" stroke="#000" stroke-width=".6"><circle cx="380" cy="216" r="2.2"/><circle cx="267" cy="260" r="2.2"/><circle cx="508" cy="206" r="2.2"/><circle cx="670" cy="240" r="2.2"/><circle cx="868" cy="297" r="2.2"/></g>
<rect x="269" y="199" width="8" height="7" class="l" transform="rotate(-20 273 202)"/>

<!-- grid circles -->
<g class="c">
<circle cx="67" cy="220" r="8.5"/><text x="67" y="224">1</text>
<circle cx="229" cy="176" r="8.5"/><text x="229" y="180">2</text>
<circle cx="268" cy="155" r="8.5"/><text x="268" y="159">4</text>
<circle cx="284" cy="148" r="8.5"/><text x="284" y="152">3</text>
<circle cx="489" cy="78" r="8.5"/><text x="489" y="82">5</text>
<circle cx="527" cy="78" r="8.5"/><text x="527" y="82">6</text>
<circle cx="668" cy="100" r="8.5"/><text x="668" y="104">9</text>
<circle cx="718" cy="100" r="8.5"/><text x="718" y="104">10</text>
<circle cx="872" cy="124" r="8.5"/><text x="872" y="128">11</text>
<circle cx="905" cy="124" r="8.5"/><text x="905" y="128">12</text>
<circle cx="986" cy="124" r="8.5"/><text x="986" y="128">14</text>
<circle cx="998" cy="258" r="8.5"/><text x="998" y="262">R</text>
<circle cx="93" cy="343" r="8.5"/><text x="93" y="347">B</text>
<circle cx="116" cy="384" r="8.5"/><text x="116" y="388">C</text>
<circle cx="158" cy="402" r="8.5"/><text x="158" y="406">1</text>
<circle cx="341" cy="402" r="8.5"/><text x="341" y="406">2</text>
<circle cx="403" cy="388" r="8.5"/><text x="403" y="392">3</text>
<circle cx="268" cy="422" r="8.5"/><text x="268" y="426">4</text>
<circle cx="489" cy="376" r="8.5"/><text x="489" y="380">5</text>
<circle cx="527" cy="376" r="8.5"/><text x="527" y="380">6</text>
<circle cx="583" cy="519" r="8.5"/><text x="583" y="523">A</text>
<circle cx="998" cy="519" r="8.5"/><text x="998" y="523">A</text>
<circle cx="668" cy="552" r="8.5"/><text x="668" y="556">9</text>
<circle cx="718" cy="552" r="8.5"/><text x="718" y="556">10</text>
<circle cx="872" cy="552" r="8.5"/><text x="872" y="556">11</text>
<circle cx="905" cy="552" r="8.5"/><text x="905" y="556">12</text>
<circle cx="986" cy="552" r="8.5"/><text x="986" y="556">14</text>
</g>

<!-- Schnitt 1-1 -->
<g>
<text x="484" y="409" class="sm">Schnitt 1-1</text><line x1="465" y1="411" x2="503" y2="411" class="l"/>
<text x="484" y="421" class="sm">M 1:25</text>
<path d="M397 468H478M397 482H478M397 462V486M510 455H570M510 468H570M570 451V472" class="l"/>
<path d="M400 471H478M512 458H568" stroke="#000" stroke-width="1.3"/>
<path d="M400 479H478M512 465H568" class="d"/>
<path d="M405 479v-3M415 479v-3M425 479v-3M435 479v-3M445 479v-3M455 479v-3M465 479v-3M520 465v-3M530 465v-3M540 465v-3M550 465v-3M560 465v-3" class="l"/>
<rect x="472" y="430" width="18" height="27" fill="url(#xh)" stroke="#000" stroke-width=".8"/>
<path d="M476 457H510V487H482Z" class="l"/>
<path d="M488 452L520 432M488 452L514 430M488 452L508 432M490 455L522 436M486 450L500 432M480 487L500 512M482 487L505 512M486 487L509 512M490 487L514 512M495 487L518 510M500 487L520 506M505 487L521 500M476 457L486 487M480 457L490 487" class="h"/>
<path d="M476 470H510M476 478H510" class="h"/>
<g class="b">
<g transform="translate(436,432)"><rect x="0" y="-3.5" width="12" height="7" rx="3.5"/><text x="6" y="1.8" class="n">125</text><text x="14" y="1.8" class="s">Ø10/12,5</text></g>
<g transform="translate(441,442)"><rect x="0" y="-3.5" width="12" height="7" rx="3.5"/><text x="6" y="1.8" class="n">127</text><text x="14" y="1.8" class="s">Ø8/20</text></g>
<g transform="translate(518,432)"><rect x="0" y="-3.5" width="12" height="7" rx="3.5"/><text x="6" y="1.8" class="n">124</text><text x="14" y="1.8" class="s">Ø8/20</text></g>
<g transform="translate(526,494)"><rect x="0" y="-3.5" width="12" height="7" rx="3.5"/><text x="6" y="1.8" class="n">121</text><text x="14" y="1.8" class="s">Ø8/20</text></g>
<g transform="translate(466,508)"><rect x="0" y="-3.5" width="12" height="7" rx="3.5"/><text x="6" y="1.8" class="n">122</text><text x="14" y="1.8" class="s">Ø10/12,5</text></g>
<g transform="translate(528,508)"><rect x="0" y="-3.5" width="12" height="7" rx="3.5"/><text x="6" y="1.8" class="n">123</text><text x="14" y="1.8" class="s">Ø8/20</text></g>
</g>
<text x="377" y="455" class="k">Ø10/20</text><text x="377" y="492" class="k">Ø10/20</text>
<text x="405" y="446" class="k">Ø8 /15</text><text x="446" y="462" class="k">-0,45</text>
<text x="405" y="506" class="k">Ø8 /12,5</text><text x="438" y="502" class="k">Ø8 /15</text>
<text x="522" y="485" class="k">Ø10/20</text><text x="547" y="485" class="k">Ø10/12,5</text>
<text x="570" y="476" class="k">Ø10/20</text><text x="568" y="442" class="k">Ø10/12,5</text><text x="583" y="452" class="k">-0,45</text>
<path d="M389 457V468M410 449V468M424 484V500M451 484V500M527 470V482M550 470V482M580 446V455" class="h"/>
</g>

<!-- Schnitt 2-2 -->
<g>
<text x="476" y="533" class="sm">Schnitt 2-2</text><line x1="458" y1="535" x2="495" y2="535" class="l"/>
<text x="479" y="546" class="sm">M 1:25</text>
<path d="M476 557L462 575H490ZM462 575V623H486V575M486 575H548M486 587H548M411 602H462M411 620H462M548 571V590M411 598V624" class="l"/>
<path d="M490 578H546M414 605H460" stroke="#000" stroke-width="1.3"/>
<path d="M490 584H546M414 617H460" class="d"/>
<path d="M470 560L462 575M482 560L490 575M476 560V575M462 580L475 637M462 585L478 637M462 590L481 636M462 595L484 634M464 600L486 630M466 605L487 625M486 580L497 565M486 585L499 570" class="h"/>
<path d="M380 606H392M386 606l-2-3h4z" class="l"/>
<g class="b">
<g transform="translate(484,553)"><rect x="0" y="-3.5" width="9" height="7" rx="3.5"/><text x="4.5" y="1.8" class="n">1</text><text x="11" y="1.8" class="s">Ø12/20</text></g>
<g transform="translate(429,567)"><rect x="0" y="-3.5" width="9" height="7" rx="3.5"/><text x="4.5" y="1.8" class="n">3</text><text x="11" y="1.8" class="s">Ø10/12,5</text></g>
<g transform="translate(429,577)"><rect x="0" y="-3.5" width="9" height="7" rx="3.5"/><text x="4.5" y="1.8" class="n">4</text><text x="11" y="1.8" class="s">Ø8/20</text></g>
<g transform="translate(506,618)"><rect x="0" y="-3.5" width="9" height="7" rx="3.5"/><text x="4.5" y="1.8" class="n">4</text><text x="11" y="1.8" class="s">Ø8/20</text></g>
<g transform="translate(496,632)"><rect x="0" y="-3.5" width="9" height="7" rx="3.5"/><text x="4.5" y="1.8" class="n">1</text><text x="11" y="1.8" class="s">Ø8/20</text></g>
<g transform="translate(454,640)"><rect x="0" y="-3.5" width="9" height="7" rx="3.5"/><text x="4.5" y="1.8" class="n">2</text><text x="11" y="1.8" class="s">Ø8/20</text></g>
</g>
<text x="543" y="554" class="k">Ø12/20</text><text x="548" y="568" class="k">Ø10/12,5</text><text x="553" y="575" class="k">-0,45</text>
<text x="548" y="597" class="k">Ø8 /12,5</text><text x="510" y="608" class="k">Ø10/12,5</text><text x="533" y="608" class="k">Ø12/12,5</text>
<text x="413" y="593" class="k">Ø8 /15</text><text x="378" y="604" class="k">-0,45</text><text x="395" y="604" class="k">Ø8 /12,5</text>
<text x="396" y="629" class="k">Ø10/12,5</text><text x="415" y="636" class="k">Ø8 /15</text><text x="433" y="646" class="k">Ø8 /15</text>
</g>

<!-- Schnitt 3-3 -->
<g>
<text x="405" y="743" class="sm">Schnitt 3-3</text><line x1="386" y1="745" x2="425" y2="745" class="l"/>
<text x="405" y="756" class="sm">M 1:25</text>
<rect x="373" y="765" width="18" height="22" fill="url(#xh)" stroke="#000" stroke-width=".8"/>
<path d="M391 787H520M464 800H520M380 788V828H464V788M327 813H380M327 833H380M520 783V803M327 809V837" class="l"/>
<path d="M395 790H518M330 816H378" stroke="#000" stroke-width="1.3"/>
<path d="M395 800H462M395 812H462M395 790V826M410 790V826M425 790V826M440 790V826M452 790V826M330 830H378" class="d"/>
<path d="M376 793L372 812M378 795L374 812M380 797L376 812M462 770L466 812M464 770L468 810M466 772L470 806M468 775L471 800" class="h"/>
<path d="M291 808H305M298 808l-2-3h4zM505 780H520M512 780l-2-3h4z" class="l"/>
<g class="b">
<g transform="translate(483,765)"><rect x="0" y="-3.5" width="9" height="7" rx="3.5"/><text x="4.5" y="1.8" class="n">24</text><text x="11" y="1.8" class="s">Ø8/25</text></g>
<g transform="translate(406,773)"><rect x="0" y="-3.5" width="9" height="7" rx="3.5"/><text x="4.5" y="1.8" class="n">14</text><text x="11" y="1.8" class="s">Ø8/20/12,5</text></g>
<g transform="translate(350,787)"><rect x="0" y="-3.5" width="9" height="7" rx="3.5"/><text x="4.5" y="1.8" class="n">23</text><text x="11" y="1.8" class="s">Ø8/25</text></g>
<g transform="translate(472,830)"><rect x="0" y="-3.5" width="9" height="7" rx="3.5"/><text x="4.5" y="1.8" class="n">15</text><text x="11" y="1.8" class="s">Ø10/12,5</text></g>
<g transform="translate(374,847)"><rect x="0" y="-3.5" width="9" height="7" rx="3.5"/><text x="4.5" y="1.8" class="n">17</text><text x="11" y="1.8" class="s">Ø8 /12,5</text></g>
<g transform="translate(410,847)"><rect x="0" y="-3.5" width="9" height="7" rx="3.5"/><text x="4.5" y="1.8" class="n">16</text><text x="11" y="1.8" class="s">Ø8 /12,5</text></g>
<g transform="translate(454,847)"><rect x="0" y="-3.5" width="9" height="7" rx="3.5"/><text x="4.5" y="1.8" class="n">15</text><text x="11" y="1.8" class="s">Ø8 /12,5</text></g>
</g>
<text x="428" y="767" class="k">Ø10/12,5</text><text x="505" y="767" class="k">Ø8 /12,5</text><text x="505" y="776" class="k">-0,45</text>
<text x="338" y="804" class="k">Ø10/12,5</text><text x="316" y="811" class="k">Ø8 /12,5</text><text x="290" y="805" class="k">-0,45</text>
<text x="314" y="836" class="k">Ø10/12,5</text><text x="333" y="844" class="k">Ø8 /12,5</text><text x="343" y="853" class="k">Ø8 /15</text>
<text x="486" y="808" class="k">Ø10/12,5</text><text x="480" y="818" class="k">Ø8 /15</text><text x="503" y="818" class="k">Ø8 /15</text>
<path d="M436 769V787M372 847V833M408 847V828M452 847V828M349 787V813" class="h"/>
</g>

<!-- ST panels -->
<g>
<rect x="36" y="467" width="101" height="165" class="l"/>
<text x="42" y="477" font-size="8">2 x ST02-UG</text><text x="42" y="484" class="kk">Schnitt M 1:25</text>
<path d="M48 490V500H120M48 513H120M53 500V513M63 500V513M72 500V513M82 500V513M92 500V513M101 500V513M111 500V513M48 521H117M48 518V524M117 518V524M48 529H110M48 526V532M110 526V532M122 498V513M128 498V513" class="l"/>
<path d="M62 490V500M85 490V500M105 490V500" class="l"/>
<circle cx="62" cy="493" r="2" fill="#fff" stroke="#000" stroke-width=".7"/><circle cx="85" cy="493" r="2.2" fill="#000"/><circle cx="105" cy="493" r="2" fill="#fff" stroke="#000" stroke-width=".7"/>
<text x="50" y="520" class="kk">12,5 15 15 15 15 15 15 12,5</text>
<text x="51" y="538" class="kk">① 4x Ø8-1/2/60-2/4/20</text><text x="51" y="544" class="kk">② 4x Ø8-1/2/60-2/4/20</text>
<text x="41" y="558" class="kk">Draufsicht M 1:25</text>
<path d="M38 594H135" class="d"/>
<path d="M83 557V628M89 557V628" stroke="#000" stroke-width="1.4"/>
<path d="M86 594L50 574M86 594L57 564M86 594L70 560M86 594L106 560M86 594L117 564M86 594L124 576M86 594L128 611M86 594L118 624M86 594L106 628M86 594L66 628M86 594L52 620M86 594L44 610" stroke="#000" stroke-width=".8"/>
<rect x="81" y="591" width="10" height="6" fill="#fff" stroke="#000" stroke-width=".7"/>

<rect x="149" y="467" width="100" height="165" class="l"/>
<text x="155" y="477" font-size="8">1 x ST06-UG</text><text x="155" y="484" class="kk">Schnitt M 1:25</text>
<path d="M161 490V500H240M161 513H240M167 500V513M177 500V513M187 500V513M161 521H187M161 518V524M187 518V524M161 529H185M161 526V532M185 526V532M199 498V513M203 498V513M175 490V500" class="l"/>
<circle cx="175" cy="493" r="2.2" fill="#000"/>
<text x="160" y="538" class="kk">① 4x Ø8-1/2/60-2/4/20</text>
<text x="155" y="558" class="kk">Draufsicht M 1:25</text>
<path d="M180 593H217M198 577V610" class="d"/>
<path d="M198 593L186 581M198 593L210 581M198 593L186 605M198 593L210 605M198 593L192 580M198 593L204 606" stroke="#000" stroke-width=".8"/>

<rect x="262" y="467" width="101" height="165" class="l"/>
<text x="268" y="477" font-size="8">1 x ST07-UG</text><text x="268" y="484" class="kk">Schnitt M 1:25</text>
<path d="M274 490V500H353M274 513H353M278 500V513M288 500V513M298 500V513M308 500V513M318 500V513M274 521H320M274 518V524M320 518V524M274 529H315M274 526V532M315 526V532M329 498V513M334 498V513M283 490V500M305 490V500" class="l"/>
<circle cx="283" cy="493" r="2" fill="#fff" stroke="#000" stroke-width=".7"/><circle cx="305" cy="493" r="2" fill="#fff" stroke="#000" stroke-width=".7"/>
<text x="274" y="538" class="kk">① 2x Ø8-1/2/60-2/4/20</text><text x="274" y="544" class="kk">② 2x Ø8-1/2/60-2/4/20</text>
<text x="268" y="558" class="kk">Draufsicht M 1:25</text>
<path d="M282 593H342M312 597V620" class="d"/>
<rect x="306" y="590" width="12" height="6" fill="#fff" stroke="#000" stroke-width=".7"/>
<path d="M306 596L288 614M318 596L333 614" stroke="#000" stroke-width=".8"/>
</g>

<!-- DETAIL A / B -->
<g>
<rect x="36" y="652" width="117" height="198" class="l"/>
<text x="42" y="663" font-size="9">DETAIL A</text><text x="137" y="659" class="kk" font-weight="normal">M 1:25</text>
<text x="42" y="672" class="kk" font-weight="normal">2x vorhanden</text><text x="52" y="684" class="kk">Schnitt</text>
<path d="M87 680V743M98 680V743M84 680H100M98 743H133" class="l"/>
<path d="M90 688V750M93 688V750" stroke="#000" stroke-width="1.1"/>
<path d="M45 743H140M45 753H140" class="l"/><path d="M45 746H140" stroke="#000" stroke-width="1.4"/><path d="M45 750H140" class="d"/>
<path d="M80 727L95 752M82 727L97 752" stroke="#000" stroke-width=".9"/>
<path d="M93 712H102M115 752V763" class="h"/>
<text x="52" y="777" class="kk">Draufsicht</text>
<path d="M88 770V840M92 770V840" stroke="#000" stroke-width="1.4"/>
<path d="M40 798H135M40 802H135" class="l"/>
<circle cx="91" cy="800" r="5" fill="none" stroke="#000" stroke-width=".8"/>
<path d="M92 800L103 818M94 800L105 818" stroke="#000" stroke-width="1.1"/>
<path d="M93 788H100M63 802V816" class="h"/>
<g class="b">
<g transform="translate(102,712)"><rect x="0" y="-3.5" width="12" height="7" rx="3.5"/><text x="6" y="1.8" class="n">112</text><text x="14" y="1.8" class="s">Ø8/12</text></g>
<g transform="translate(55,720)"><rect x="0" y="-3.5" width="12" height="7" rx="3.5"/><text x="6" y="1.8" class="n">115</text><text x="14" y="1.8" class="s">Ø8/12</text></g>
<g transform="translate(112,765)"><rect x="0" y="-3.5" width="12" height="7" rx="3.5"/><text x="6" y="1.8" class="n">115</text><text x="14" y="1.8" class="s">Ø8/12</text></g>
<g transform="translate(100,788)"><rect x="0" y="-3.5" width="12" height="7" rx="3.5"/><text x="6" y="1.8" class="n">116</text><text x="14" y="1.8" class="s">Ø8/12</text></g>
<g transform="translate(48,818)"><rect x="0" y="-3.5" width="12" height="7" rx="3.5"/><text x="6" y="1.8" class="n">113</text><text x="14" y="1.8" class="s">Ø8/12</text></g>
<g transform="translate(103,818)"><rect x="0" y="-3.5" width="12" height="7" rx="3.5"/><text x="6" y="1.8" class="n">112</text><text x="14" y="1.8" class="s">Ø8/12</text></g>
</g>

<rect x="164" y="652" width="117" height="198" class="l"/>
<text x="170" y="663" font-size="9">DETAIL B</text><text x="265" y="659" class="kk" font-weight="normal">M 1:25</text>
<text x="170" y="672" class="kk" font-weight="normal">2x vorhanden</text><text x="180" y="684" class="kk">Schnitt</text>
<path d="M215 680V743M226 680V743M212 680H228M226 743H261" class="l"/>
<path d="M218 688V750M221 688V750" stroke="#000" stroke-width="1.1"/>
<path d="M173 743H268M173 753H268" class="l"/><path d="M173 746H268" stroke="#000" stroke-width="1.4"/><path d="M173 750H268" class="d"/>
<path d="M208 727L223 752M210 727L225 752" stroke="#000" stroke-width=".9"/>
<path d="M221 712H230M243 752V763" class="h"/>
<text x="180" y="777" class="kk">Draufsicht</text>
<path d="M216 770V840M220 770V840" stroke="#000" stroke-width="1.6"/>
<path d="M168 798H263M168 802H263" class="l"/>
<circle cx="219" cy="800" r="5" fill="none" stroke="#000" stroke-width=".8"/>
<path d="M220 800L231 818M222 800L233 818" stroke="#000" stroke-width="1.1"/>
<path d="M221 788H228M191 802V816" class="h"/>
<g class="b">
<g transform="translate(230,712)"><rect x="0" y="-3.5" width="10" height="7" rx="3.5"/><text x="5" y="1.8" class="n">12</text><text x="12" y="1.8" class="s">Ø8/12</text></g>
<g transform="translate(183,720)"><rect x="0" y="-3.5" width="10" height="7" rx="3.5"/><text x="5" y="1.8" class="n">15</text><text x="12" y="1.8" class="s">Ø8/12</text></g>
<g transform="translate(240,765)"><rect x="0" y="-3.5" width="10" height="7" rx="3.5"/><text x="5" y="1.8" class="n">15</text><text x="12" y="1.8" class="s">Ø8/12</text></g>
<g transform="translate(228,788)"><rect x="0" y="-3.5" width="10" height="7" rx="3.5"/><text x="5" y="1.8" class="n">13</text><text x="12" y="1.8" class="s">Ø8/12</text></g>
<g transform="translate(176,818)"><rect x="0" y="-3.5" width="10" height="7" rx="3.5"/><text x="5" y="1.8" class="n">13</text><text x="12" y="1.8" class="s">Ø8/12</text></g>
<g transform="translate(231,818)"><rect x="0" y="-3.5" width="10" height="7" rx="3.5"/><text x="5" y="1.8" class="n">12</text><text x="12" y="1.8" class="s">Ø8/12</text></g>
</g>
</g>

<!-- Stützen table -->
<g>
<rect x="293" y="652" width="127" height="60" class="l"/>
<text x="345" y="658" class="tb">Stützen, Wände</text>
<path d="M293 660H420M293 666H420M293 672H420M293 678H420M293 684H420M293 690H420M293 696H420M293 702H420M313 660V712M324 660V712M414 660V712" class="l"/>
<text x="295" y="665" class="tb">Typ</text><text x="315" y="665" class="tb">Anz</text><text x="326" y="665" class="tb">Bauteil</text><text x="415" y="665" class="tb">Stk.</text>
<text x="295" y="671" class="tb">ST02-UG</text><text x="316" y="671" class="tb">1</text><text x="326" y="671" class="tb">HDB-14/250-3/180</text><text x="416" y="671" class="tb">2</text>
<text x="316" y="677" class="tb">1</text><text x="326" y="677" class="tb">HDB-14/250-3/125</text><text x="416" y="677" class="tb">2</text>
<text x="295" y="683" class="tb">ST06-UG</text><text x="316" y="683" class="tb">1</text><text x="326" y="683" class="tb">HDB-14/250-3/180</text><text x="416" y="683" class="tb">1</text>
<text x="295" y="689" class="tb">ST07-UG</text><text x="316" y="689" class="tb">1</text><text x="326" y="689" class="tb">HDB-20/250-2/420</text><text x="416" y="689" class="tb">1</text>
<text x="316" y="695" class="tb">1</text><text x="326" y="695" class="tb">HDB-20/250-2/420</text><text x="416" y="695" class="tb">1</text>
</g>

<!-- Biegelisten -->
<g>
<!-- T1 -->
<rect x="587" y="573" width="105" height="293" class="l"/>
<text x="589" y="580" font-size="5" font-weight="bold">Schneide- und Biegeliste</text>
<text x="589" y="587" class="kk" font-weight="normal">Biegerollendurchmesser nach DIN 1045-1:2001 Tabelle 23</text>
<text x="589" y="593" class="kk">Abgerechnete Stahlsorte: B500B</text>
<path d="M587 596H692M587 606H692M587 610H692M587 617.3H692M587 631.7H692M587 647.3H692M587 654.3H692M587 671H692M587 691.7H692M587 709.3H692M587 715.3H692M587 721.7H692M587 727.3H692M587 733.3H692M587 747.3H692M587 753.3H692M587 770.7H692M587 798.3H692M587 813.3H692M587 828.3H692M587 835H692M587 850H692" class="l"/>
<path d="M592 596V606M596 596V606M600 596V606M608 596V606M620 596V606M632 596V606M678 596V606M592 610V866M596 610V866M600 610V866M608 610V866M620 610V866M632 610V866M678 610V866" class="l"/>
<text x="640" y="602" class="tb">Biegeform</text><text x="636" y="609" class="tb">Ansicht 1</text>
<g class="h" stroke-width=".7">
<path d="M636 615H674M636 652H674M636 713H674M636 719H674M636 725H674M636 731H674M636 751H674M636 833H674"/>
<rect x="643" y="620" width="22" height="8" rx="3"/><rect x="638" y="635" width="34" height="9" rx="3"/>
<rect x="645" y="658" width="17" height="9" rx="3"/><rect x="648" y="756" width="14" height="10" rx="3"/>
<rect x="640" y="775" width="30" height="20" rx="3"/><rect x="643" y="801" width="22" height="8" rx="3"/><rect x="643" y="816" width="22" height="8" rx="3"/>
<path d="M636 688L672 680V676M636 706H672V695M636 742H660V737M636 846H655L660 842H674M640 862V855H674"/>
</g>
<g class="tb">
<text x="588" y="615">1</text><text x="588" y="626">2</text><text x="588" y="641">3</text><text x="588" y="652">4</text><text x="588" y="664">5</text><text x="588" y="683">6</text><text x="588" y="702">7</text><text x="588" y="714">8</text><text x="588" y="720">9</text><text x="588" y="726">10</text><text x="588" y="732">11</text><text x="588" y="742">12</text><text x="588" y="752">13</text><text x="588" y="764">14</text><text x="588" y="786">15</text><text x="588" y="807">16</text><text x="588" y="822">17</text><text x="588" y="833">18</text><text x="588" y="844">19</text><text x="588" y="860">20</text>
<text x="681" y="615">11,27</text><text x="681" y="626">38,47</text><text x="681" y="641">25,41</text><text x="681" y="664">20,01</text><text x="681" y="683">19,20</text><text x="681" y="702">28,85</text><text x="681" y="742">38,21</text><text x="681" y="786">100,5</text><text x="681" y="807">33,65</text><text x="681" y="822">124,15</text><text x="681" y="844">106,12</text><text x="681" y="860">116,03</text>
<text x="610" y="615">10,40</text><text x="610" y="626">195,4</text><text x="610" y="641">93,60</text><text x="610" y="664">80,40</text><text x="610" y="683">23,73</text><text x="610" y="702">24,80</text><text x="610" y="742">91,60</text><text x="610" y="786">104,00</text><text x="610" y="807">133,50</text><text x="610" y="844">119,00</text>
</g>
<!-- T2 -->
<rect x="704" y="573" width="105" height="209" class="l"/>
<text x="706" y="580" font-size="5" font-weight="bold">Schneide- und Biegeliste</text>
<text x="706" y="587" class="kk" font-weight="normal">Biegerollendurchmesser nach DIN 1045-1:2001 Tabelle 23</text>
<text x="706" y="593" class="kk">Abgerechnete Stahlsorte: B500B</text>
<path d="M704 596H809M704 606H809M704 626H809M704 640.7H809M704 654.3H809M704 657.3H809M704 660H809M704 662.7H809M704 665.7H809M704 668.3H809M704 679.3H809M704 695H809M704 699.3H809M704 702.7H809M704 718.3H809M704 735H809M704 751.7H809M704 765.7H809" class="l"/>
<path d="M710 596V782M713 596V782M718 596V782M727 596V782M738 596V782M749 596V782M796 596V782" class="l"/>
<text x="756" y="602" class="tb">Biegeform</text>
<g class="h" stroke-width=".7">
<path d="M755 610V622H790M755 610H762M762 630H752V638H762M752 648H790L787 644"/>
<path d="M752 656H792M752 659H792M752 661.5H792M752 664H792M752 667H792M752 697H792M752 701H792"/>
<rect x="760" y="670" width="18" height="7" rx="3"/><rect x="760" y="683" width="18" height="9" rx="3"/>
<rect x="755" y="706" width="34" height="9" rx="3"/><path d="M752 731H790V722M752 747H790V740Q790 738 788 738H752M752 760H790V754"/><rect x="752" y="770" width="38" height="8" rx="3"/>
</g>
<g class="tb"><text x="705" y="618">21</text><text x="705" y="635">22</text><text x="705" y="650">23</text><text x="705" y="675">24</text><text x="705" y="690">25</text><text x="705" y="712">26</text><text x="705" y="728">27</text><text x="705" y="745">28</text><text x="705" y="760">29</text><text x="705" y="776">30</text>
<text x="798" y="618">30,72</text><text x="798" y="635">17,20</text><text x="798" y="650">36,71</text><text x="798" y="675">38,41</text><text x="798" y="690">28,45</text><text x="798" y="712">36,21</text><text x="798" y="728">15,40</text><text x="798" y="745">55,30</text><text x="798" y="760">19,20</text><text x="798" y="776">26,46</text>
<text x="728" y="618">10,80</text><text x="728" y="635">9,60</text><text x="728" y="650">11,20</text><text x="728" y="675">53,40</text><text x="728" y="712">94,40</text><text x="728" y="745">94,40</text></g>
<rect x="704" y="793" width="105" height="71" class="l"/>
<path d="M704 805H809M704 810H809M704 815H809M704 820H809M704 825H809M704 830H809M704 835H809M704 840H809M704 845H809M704 857H809M710 793V845M720 793V845M747 793V845M768 793V845" class="l"/>
<text x="705" y="800" class="tb">Ø</text><text x="722" y="800" class="tb">Gewicht</text><text x="750" y="800" class="tb">Gesamtlänge</text><text x="778" y="800" class="tb">kg Durchmesser</text>
<g class="tb"><text x="705" y="809">8</text><text x="705" y="814">10</text><text x="705" y="819">12</text><text x="705" y="824">14</text><text x="705" y="829">16</text><text x="705" y="834">20</text><text x="705" y="839">25</text><text x="705" y="844">28</text>
<text x="759" y="809">169,40</text><text x="759" y="814">48,20</text><text x="759" y="819">215,20</text><text x="759" y="824">57,40</text><text x="759" y="829">25,10</text><text x="759" y="834">105,20</text><text x="759" y="839">12,40</text><text x="759" y="844">24,20</text>
<text x="798" y="809">111,23</text><text x="798" y="814">18,27</text><text x="798" y="819">22,45</text><text x="798" y="824">35,40</text><text x="798" y="829">55,07</text><text x="798" y="834">145,20</text><text x="798" y="839">17,40</text><text x="798" y="844">118,20</text>
<text x="706" y="853">Gesamtmasse [kg]</text><text x="795" y="853">677,25</text></g>
<!-- T3 -->
<rect x="825" y="573" width="104" height="280" class="l"/>
<text x="827" y="580" font-size="5" font-weight="bold">Schneide- und Biegeliste</text>
<text x="827" y="587" class="kk" font-weight="normal">Biegerollendurchmesser nach DIN 1045-1:2001 Tabelle 23</text>
<text x="827" y="593" class="kk">Abgerechnete Stahlsorte: B500B</text>
<path d="M825 596H929M825 606H929M825 610H929M825 613.3H929M825 616.7H929M825 620H929M825 623.3H929M825 628.3H929M825 631.7H929M825 647.3H929M825 667.3H929M825 673.3H929M825 690H929M825 693.3H929M825 696.7H929M825 700H929M825 703.3H929M825 720H929M825 726.7H929M825 745H929M825 761.7H929M825 776.7H929M825 793.3H929M825 796.7H929M825 800H929M825 803.3H929M825 823.3H929M825 840H929M825 848.3H929" class="l"/>
<path d="M831 596V853M834.3 596V853M839.3 596V853M847.7 596V853M858.3 596V853M870 596V853M917.7 596V853" class="l"/>
<text x="876" y="602" class="tb">Biegeform</text><text x="876" y="609" class="tb">Ansicht 1</text>
<g class="h" stroke-width=".7">
<path d="M874 612H914M874 615H914M874 618.5H914M874 622H914M874 626H914M874 630H914M874 671H914M874 692H914M874 695H914M874 698H914M874 702H914M874 724H914M874 795H914M874 798.5H914M874 802H914M874 846H914M874 851H914"/>
<rect x="882" y="634" width="26" height="10" rx="3"/><rect x="890" y="650" width="12" height="14" rx="3"/><rect x="880" y="676" width="30" height="10" rx="3"/>
<path d="M874 717H905V708M874 743H914V738M874 770H914"/><rect x="885" y="749" width="18" height="9" rx="3"/><rect x="880" y="781" width="30" height="9" rx="3"/>
<rect x="888" y="807" width="14" height="12" rx="3"/><rect x="882" y="827" width="26" height="9" rx="3"/>
</g>
<g class="tb"><text x="826" y="612">101</text><text x="826" y="615.5">102</text><text x="826" y="619">103</text><text x="826" y="622.5">104</text><text x="826" y="627">105</text><text x="826" y="640">106</text><text x="826" y="658">107</text><text x="826" y="671">108</text><text x="826" y="683">109</text><text x="826" y="712">110</text><text x="826" y="724">111</text><text x="826" y="737">112</text><text x="826" y="754">113</text><text x="826" y="770">114</text><text x="826" y="786">115</text><text x="826" y="814">116</text><text x="826" y="832">117</text><text x="826" y="845">118</text><text x="826" y="852">119</text>
<text x="919" y="612">25,61</text><text x="919" y="619">40,20</text><text x="919" y="627">13,71</text><text x="919" y="640">71,40</text><text x="919" y="658">38,10</text><text x="919" y="671">145,26</text><text x="919" y="683">52,40</text><text x="919" y="712">26,20</text><text x="919" y="737">43,50</text><text x="919" y="754">36,10</text><text x="919" y="770">121,40</text><text x="919" y="786">35,20</text><text x="919" y="814">111,2</text><text x="919" y="832">173,4</text><text x="919" y="845">40,50</text>
<text x="849" y="612">5,20</text><text x="849" y="640">5,30</text><text x="849" y="658">5,00</text><text x="849" y="683">5,80</text><text x="849" y="712">5,20</text><text x="849" y="737">5,70</text><text x="849" y="754">5,20</text><text x="849" y="786">5,20</text><text x="849" y="814">5,20</text><text x="849" y="832">5,20</text></g>
<!-- T4 -->
<rect x="942" y="573" width="105" height="115" class="l"/>
<text x="944" y="580" font-size="5" font-weight="bold">Schneide- und Biegeliste</text>
<text x="944" y="587" class="kk" font-weight="normal">Biegerollendurchmesser nach DIN 1045-1:2001 Tabelle 23</text>
<text x="944" y="593" class="kk">Abgerechnete Stahlsorte: B500B</text>
<path d="M942 596H1047M942 606H1047M942 622H1047M942 638H1047M942 654H1047M942 670H1047" class="l"/>
<path d="M947.7 596V688M951.7 596V688M956.7 596V688M965 596V688M976.7 596V688M986.7 596V688M1035 596V688" class="l"/>
<text x="994" y="602" class="tb">Biegeform</text>
<g class="h" stroke-width=".7">
<path d="M990 612H1012L1020 618H1030M990 633H1030V625M990 646H1030V642Q1030 641 1028 641H990"/>
<rect x="1000" y="657" width="16" height="10" rx="3"/><rect x="993" y="674" width="38" height="9" rx="3"/>
</g>
<g class="tb"><text x="943" y="616">126</text><text x="943" y="632">127</text><text x="943" y="648">128</text><text x="943" y="664">129</text><text x="943" y="681">130</text>
<text x="1037" y="616">53,08</text><text x="1037" y="632">36,11</text><text x="1037" y="648">25,40</text><text x="1037" y="664">19,45</text><text x="1037" y="681">14,22</text>
<text x="967" y="616">10,40</text><text x="967" y="632">9,60</text><text x="967" y="648">7,60</text><text x="967" y="664">10,80</text><text x="967" y="681">10,20</text></g>
<rect x="942" y="690" width="105" height="71" class="l"/>
<path d="M942 700H1047M942 705.7H1047M942 710.7H1047M942 715.7H1047M942 720.7H1047M942 725.7H1047M942 730.7H1047M942 735.7H1047M942 740.7H1047M942 750H1047M948 690V740.7M958 690V740.7M980 690V740.7M1005 690V740.7" class="l"/>
<text x="943" y="697" class="tb">Ø</text><text x="959" y="697" class="tb">Gewicht</text><text x="983" y="697" class="tb">Gesamtlänge</text><text x="1010" y="697" class="tb">kg Durchmesser</text>
<g class="tb"><text x="943" y="705">8</text><text x="943" y="710">10</text><text x="943" y="715">12</text><text x="943" y="720">14</text><text x="943" y="725">16</text><text x="943" y="730">20</text><text x="943" y="735">25</text><text x="943" y="740">28</text>
<text x="993" y="705">105,20</text><text x="993" y="710">90,40</text><text x="993" y="715">112,30</text><text x="993" y="720">40,20</text><text x="993" y="725">26,20</text><text x="993" y="730">90,40</text><text x="993" y="735">40,20</text><text x="993" y="740">12,40</text>
<text x="1036" y="705">79,23</text><text x="1036" y="710">40,20</text><text x="1036" y="715">85,40</text><text x="1036" y="720">35,20</text><text x="1036" y="725">40,20</text><text x="1036" y="730">101,40</text><text x="1036" y="735">140,20</text><text x="1036" y="740">35,80</text>
<text x="944" y="747">Gesamtmasse [kg]</text><text x="1032" y="747">459,25</text></g>
</g>

<!-- right title block -->
<g>
<rect x="1059" y="293" width="185" height="30" class="l"/>
<text x="1151" y="300" font-size="5.5" text-anchor="middle" fill="#333">BAUSTAHLZUSAMMENSTELLUNG</text>
<path d="M1059 302H1244M1059 308H1244M1059 313H1244M1059 318H1244M1152 302V323M1120 308V323M1137 308V323M1203 308V323M1220 308V323" class="l"/>
<text x="1085" y="306.5" class="tb" font-weight="normal">BSt500 Rundstahlbewehrung</text><text x="1178" y="306.5" class="tb" font-weight="normal">BSt500 Mattenbewehrung</text>
<g class="tb"><text x="1061" y="312">Bauteil (Gesamt)</text><text x="1061" y="317">Gewicht (kg)</text><text x="1061" y="322">Stahlliste</text><text x="1122" y="312">1 560,25</text><text x="1139" y="312">kg</text><text x="1154" y="312">Lagermatten (kg)</text><text x="1154" y="317">Listenmatten (kg)</text><text x="1154" y="322">Zubehör</text><text x="1139" y="317">kg</text><text x="1222" y="312">kg</text><text x="1222" y="317">kg</text></g>
<rect x="1059" y="327" width="185" height="8" class="l"/><line x1="1152" y1="327" x2="1152" y2="335" class="l"/>
<text x="1061" y="333" class="tb">Zeichnung</text><text x="1090" y="333" class="tb">ZP 03 0 01</text>
<rect x="1059" y="337" width="185" height="70" class="l"/>
<text x="1061" y="341" class="tb">Betondeckung für Bewehrungsstahl: Innen 25 mm / Außen 35 mm</text>
<text x="1061" y="346" class="tb">Bauteilnummer: BA-1 / BA-4 / Decke über 1. UG</text><line x1="1061" y1="347" x2="1150" y2="347" class="l"/>
<text x="1061" y="351" class="tb">Abstandhalter / Unterstützungen</text>
<circle cx="1070" cy="363" r="7" class="l"/><circle cx="1088" cy="363" r="7" class="l"/><circle cx="1108" cy="367" r="7" class="l"/>
<path d="M1066 367L1074 359M1084 367L1092 359M1104 371L1112 363M1063 363Q1063 372 1070 372M1081 363Q1081 372 1088 372M1101 372L1118 375H1128V355" class="l"/>
<text x="1061" y="383" class="tb">Bewehrung nach Angaben</text>
<text x="1163" y="346" class="tb">Stab</text><text x="1163" y="350" class="tb">Stahlsorte</text><text x="1163" y="355" class="tb">Bauteil</text>
<path d="M1160 372H1175M1160 388H1175M1175 368V376M1175 384V392" class="l"/>
<path d="M1180 360L1187 352M1180 385L1187 377" stroke="#000" stroke-width="1.4"/>
<circle cx="1183" cy="363" r="3.5" class="l"/><circle cx="1183" cy="386" r="3.5" class="l"/>
<rect x="1205" y="352" width="25" height="35" class="l"/>
<circle cx="1211" cy="357" r="4" class="l"/><circle cx="1224" cy="357" r="4" class="l"/><circle cx="1211" cy="382" r="4" class="l"/><circle cx="1224" cy="382" r="4" class="l"/>
<path d="M1200 352V387M1205 391H1230M1232 358H1238V366H1232" class="l"/>
<path d="M1059 393H1244M1059 400H1244M1086 393V407M1100 393V407M1150 393V407M1212 393V407M1222 393V407M1232 393V407" class="l"/>
<text x="1088" y="397" class="tb">Bewehrungsstahl mit Verbindungsmitteln</text><text x="1152" y="398" class="tb">Bewehrungen nach</text>
<rect x="1059" y="408" width="185" height="75" class="l"/>
<text x="1061" y="413" class="tb">Beton für Stahlbetonbauteile / Spannbetonbauteile nach DIN EN 206-1 mit DIN 1045-2 und DIN 1045-3</text>
<path d="M1059 415H1244M1059 425H1244M1059 433H1244M1059 440H1244M1059 447H1244M1059 455H1244M1059 462H1244M1059 470H1244M1059 477H1244M1090 415V483M1112 415V483M1133 415V483M1155 415V483M1183 415V483M1197 415V483M1213 420V483M1230 420V483M1197 420H1244" class="l"/>
<g class="tb"><text x="1092" y="420">Expositions-</text><text x="1092" y="424">klasse</text><text x="1114" y="420">Festigkeits-</text><text x="1114" y="424">klasse</text><text x="1135" y="420">Feuchtigkeits-</text><text x="1135" y="424">klasse</text><text x="1157" y="420">andere</text><text x="1185" y="420">Größt-</text><text x="1200" y="419">Betondeckung</text>
<text x="1061" y="431">Fundament / BP</text><text x="1092" y="431">XC2, XF1</text><text x="1114" y="431">C30/37</text><text x="1137" y="431">WF</text><text x="1157" y="431">XA1</text><text x="1187" y="431">8</text><text x="1200" y="431">3,5</text><text x="1216" y="431">3,5</text><text x="1233" y="431">3,5</text>
<text x="1061" y="438">Wände (außen)</text><text x="1092" y="438">XC4</text><text x="1114" y="438">C30/37</text><text x="1137" y="438">WF</text><text x="1187" y="438">8</text><text x="1200" y="438">4,0</text><text x="1216" y="438">4,0</text><text x="1233" y="438">4,0</text>
<text x="1061" y="445">Decken ü. UG</text><text x="1092" y="445">XC1,XC3</text><text x="1114" y="445">C30/37</text><text x="1137" y="445">WF</text><text x="1187" y="445">8</text><text x="1200" y="445">3,5</text><text x="1216" y="445">3,5</text><text x="1233" y="445">3,5</text>
<text x="1061" y="452">Tiefgarage</text><text x="1092" y="452">XD3,XF4</text><text x="1114" y="452">C35/45</text><text x="1137" y="452">WF</text><text x="1187" y="452">8</text><text x="1200" y="452">4,5</text><text x="1216" y="452">4,5</text><text x="1233" y="452">4,5</text>
<text x="1061" y="460">Stützen Keller</text><text x="1092" y="460">XC1</text><text x="1114" y="460">C30/37</text><text x="1137" y="460">WF</text><text x="1187" y="460">1</text><text x="1200" y="460">2,5</text><text x="1216" y="460">2,5</text><text x="1233" y="460">2,5</text>
<text x="1061" y="468">Stützen Keller</text><text x="1092" y="468">XC1</text><text x="1114" y="468">C30/37</text><text x="1137" y="468">WO</text><text x="1187" y="468">1</text><text x="1200" y="468">2,0</text><text x="1216" y="468">2,0</text><text x="1233" y="468">2,0</text></g>
<rect x="1059" y="488" width="185" height="44" class="l"/>
<text x="1062" y="495" class="tb">BAUTEILTYPE</text>
<path d="M1059 497H1244M1059 527H1244M1118 497V527M1182 497V527" class="l"/>
<rect x="1062" y="500" width="21" height="7" fill="#fff" stroke="#000" stroke-width=".7"/>
<rect x="1062" y="509" width="21" height="7" fill="#000"/><rect x="1062" y="518" width="21" height="7" fill="#000"/>
<rect x="1122" y="500" width="21" height="7" fill="#000"/><rect x="1122" y="509" width="21" height="7" fill="url(#dots)" stroke="#999" stroke-width=".5"/><rect x="1122" y="518" width="21" height="7" fill="#fff" stroke="#000" stroke-width=".7"/>
<rect x="1186" y="500" width="21" height="7" fill="#fff" stroke="#000" stroke-width=".7"/><rect x="1186" y="509" width="21" height="7" fill="#fff" stroke="#000" stroke-width=".7"/><rect x="1186" y="518" width="21" height="7" fill="#fff" stroke="#000" stroke-width=".7"/>
<g class="tb"><text x="1086" y="503">Stahlbeton</text><text x="1086" y="507">(Ortbeton)</text><text x="1086" y="512">Fertigteile mit</text><text x="1086" y="516">Ortbetonergänzung</text><text x="1086" y="521">Mauerwerk</text><text x="1086" y="525">(Bestand)</text>
<text x="1146" y="503">Stahlbeton</text><text x="1146" y="507">(Bestand)</text><text x="1146" y="512">Wärmedämmung</text><text x="1146" y="516">(Perimeter)</text>
<text x="1061" y="531">Bewehrung: Bauteil 1</text><text x="1120" y="531">Schalung: Bauteil 1</text><text x="1184" y="531">Prüfstatik 1</text></g>
<rect x="1059" y="533" width="185" height="40" class="l"/>
<path d="M1059 538H1244M1059 543H1244M1059 548H1244M1059 553H1244M1059 558H1244M1059 563H1244M1059 568H1244M1070 533V563M1218 533V568M1228 533V568" class="l"/>
<text x="1061" y="567" font-size="4.6" font-weight="bold">BEWEHRUNG ZULAGEN ANSCHLUSS</text><text x="1219" y="567" class="tb">BA-1</text><text x="1229" y="567" class="tb">0 01 00</text>
<text x="1061" y="572" font-size="4.6" font-weight="bold">Änderungen</text>
<path d="M1059 578V592M1059 596V693M1059 697V771M1059 775V877M1244 578V592M1244 596V693M1244 697V771M1244 775V877M1059 877H1244" stroke="#000" stroke-width="1"/>
<line x1="1245.5" y1="600" x2="1245.5" y2="690" stroke="#888" stroke-width=".8"/>
<path d="M1079 877V874M1099 877V874M1121 877V874" class="l"/>
<text x="1061" y="883" class="tb" fill="#444">1/1 - Bauteil</text>
<rect x="1082" y="879" width="10" height="3" fill="#666"/>
</g>
</svg>
</body></html>
